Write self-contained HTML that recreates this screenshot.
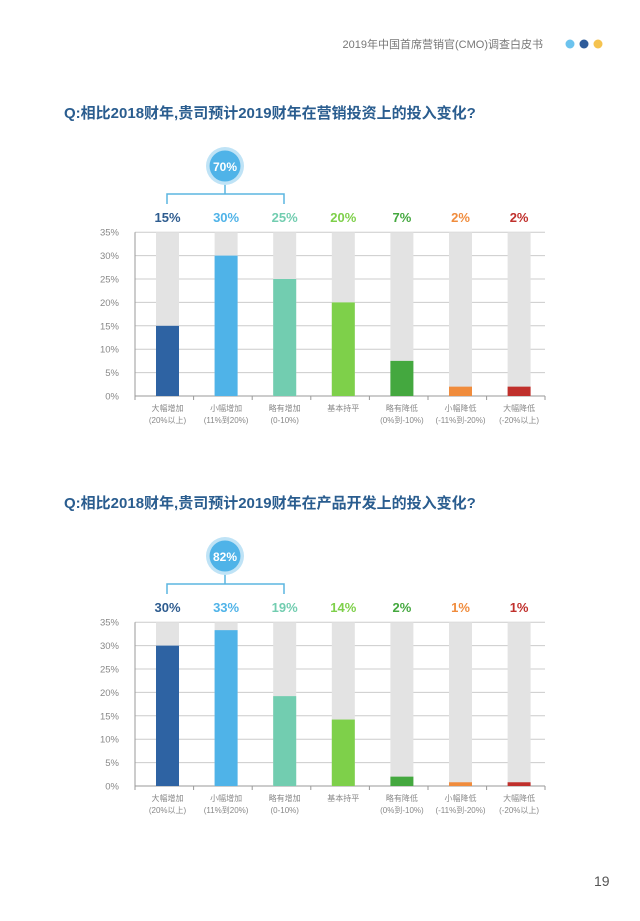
<!DOCTYPE html>
<html><head><meta charset="utf-8"><style>
body{margin:0;background:#fff;}
svg text{font-family:"Liberation Sans","Noto Sans CJK SC",sans-serif;}
</style></head><body>
<svg width="640" height="916" xmlns="http://www.w3.org/2000/svg">
<text x="543" y="48" font-size="11" fill="#777" text-anchor="end">2019年中国首席营销官(CMO)调查白皮书</text>
<circle cx="570" cy="44" r="4.5" fill="#6cc3ee"/><circle cx="584" cy="44" r="4.5" fill="#2e5c9a"/><circle cx="598" cy="44" r="4.5" fill="#f5c34f"/>
<text x="594" y="886" font-size="14" fill="#555">19</text>
<g id="c1"></g>
</svg>
<script>
const svg=document.querySelector('svg');
const cols=['#2e63a3','#4fb3e8','#72cdb0','#7ed04a','#44a83f','#f08c3d','#c0302c'];
const lc=['#2e5c8f','#4fb3e8','#72cdb0','#7ed04a','#44a83f','#f08c3d','#c0302c'];
const l1=['大幅增加','小幅增加','略有增加','基本持平','略有降低','小幅降低','大幅降低'];
const l2=['(20%以上)','(11%到20%)','(0-10%)','','(0%到-10%)','(-11%到-20%)','(-20%以上)'];
function chart(oy,title,vals,labs,tot){
 let s='';
 s+=`<text x="64" y="${oy+118}" font-size="15" font-weight="bold" fill="#2a5d8f">Q:相比2018财年,贵司预计2019财年在${title}上的投入变化?</text>`;
 const y0=oy+396,u=23.4/5;
 for(let p=0;p<=35;p+=5){const y=y0-p*u;
  s+=`<line x1="135" x2="545" y1="${y}" y2="${y}" stroke="#ccc" stroke-width="1"/>`;
  s+=`<text x="119" y="${y+3.5}" font-size="9.5" fill="#888" text-anchor="end">${p}%</text>`;}
 s+=`<line x1="135" x2="135" y1="${y0-35*u}" y2="${y0}" stroke="#999"/><line x1="135" x2="545" y1="${y0}" y2="${y0}" stroke="#999"/>`;
 for(let k=0;k<7;k++){const x=135+58.6*k;
  s+=`<line x1="${x}" x2="${x}" y1="${y0}" y2="${y0+4}" stroke="#999"/>`;
  const bx=x+21,cx=bx+11.5;
  s+=`<rect x="${bx}" y="${y0-35*u}" width="23" height="${35*u}" fill="#e3e3e3"/>`;
  s+=`<rect x="${bx}" y="${y0-vals[k]*u}" width="23" height="${vals[k]*u}" fill="${cols[k]}"/>`;
  s+=`<text x="${cx}" y="${oy+222}" font-size="13" font-weight="bold" fill="${lc[k]}" text-anchor="middle">${labs[k]}</text>`;
  s+=`<text x="${cx}" y="${oy+411}" font-size="8" fill="#888" text-anchor="middle">${l1[k]}</text>`;
  if(l2[k])s+=`<text x="${cx}" y="${oy+423}" font-size="8" fill="#888" text-anchor="middle">${l2[k]}</text>`;}
 s+=`<line x1="135" x2="135" y1="${y0}" y2="${y0}" />`;
 s+=`<line x1="545" x2="545" y1="${y0}" y2="${y0+4}" stroke="#999"/>`;
 s+=`<path d="M167 ${oy+204}V${oy+194}H284V${oy+204}M225 ${oy+194}V${oy+180}" stroke="#5bb5e0" stroke-width="1.5" fill="none"/>`;
 s+=`<circle cx="225" cy="${oy+166}" r="19" fill="#bfe3f6"/><circle cx="225" cy="${oy+166}" r="15.5" fill="#4fb3e8"/>`;
 s+=`<text x="225" y="${oy+171}" font-size="12" font-weight="bold" fill="#fff" text-anchor="middle">${tot}</text>`;
 return s;}
svg.insertAdjacentHTML('beforeend',chart(0,'营销投资',[15,30,25,20,7.5,2,2],['15%','30%','25%','20%','7%','2%','2%'],'70%')+chart(390,'产品开发',[30,33.3,19.2,14.2,2,0.8,0.8],['30%','33%','19%','14%','2%','1%','1%'],'82%'));
</script>
</body></html>
